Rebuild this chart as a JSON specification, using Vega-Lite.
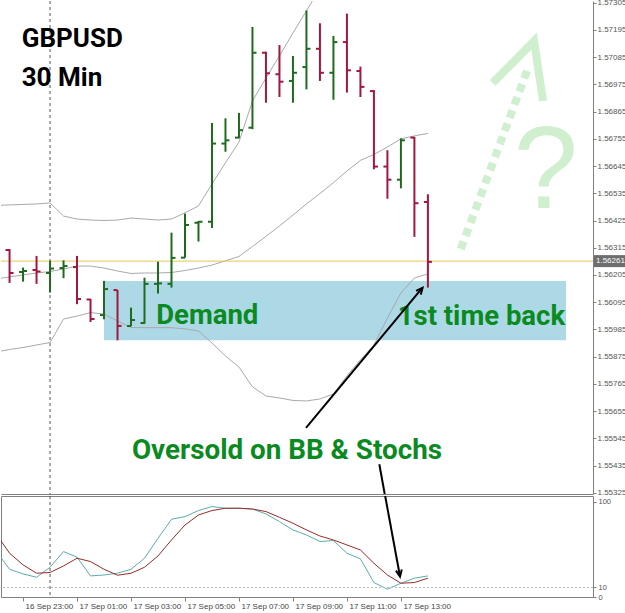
{
  "$schema": "https://vega.github.io/schema/vega-lite/v6.json",
  "padding": {"top": -2, "left": 0, "right": 0, "bottom": 0},
  "spacing": 2,
  "bounds": "flush",
  "background": "white",
  "config": {"view": {"stroke": null}, "axis": {"grid": false, "labelOverlap": false}},
  "datasets": {
    "bars": [
      {"t": "2015-09-16 22:30", "o": 1.56306, "h": 1.5631, "l": 1.56173, "c": 1.56213},
      {"t": "2015-09-16 23:00", "o": 1.56217, "h": 1.56235, "l": 1.56178, "c": 1.56221},
      {"t": "2015-09-16 23:30", "o": 1.56225, "h": 1.56282, "l": 1.56169, "c": 1.56219},
      {"t": "2015-09-17 00:00", "o": 1.56213, "h": 1.56262, "l": 1.56134, "c": 1.56231},
      {"t": "2015-09-17 00:30", "o": 1.56233, "h": 1.56264, "l": 1.56192, "c": 1.56241},
      {"t": "2015-09-17 01:00", "o": 1.56237, "h": 1.56282, "l": 1.56087, "c": 1.56108},
      {"t": "2015-09-17 01:30", "o": 1.56106, "h": 1.56108, "l": 1.56015, "c": 1.56027},
      {"t": "2015-09-17 02:00", "o": 1.56043, "h": 1.56181, "l": 1.56026, "c": 1.56148},
      {"t": "2015-09-17 02:30", "o": 1.56144, "h": 1.56144, "l": 1.55941, "c": 1.55999},
      {"t": "2015-09-17 03:00", "o": 1.55999, "h": 1.56073, "l": 1.55998, "c": 1.56023},
      {"t": "2015-09-17 03:30", "o": 1.56011, "h": 1.56194, "l": 1.56008, "c": 1.56169},
      {"t": "2015-09-17 04:00", "o": 1.56169, "h": 1.56259, "l": 1.5613, "c": 1.56171},
      {"t": "2015-09-17 04:30", "o": 1.56169, "h": 1.56376, "l": 1.56154, "c": 1.56274},
      {"t": "2015-09-17 05:00", "o": 1.56275, "h": 1.56453, "l": 1.56275, "c": 1.56407},
      {"t": "2015-09-17 05:30", "o": 1.56416, "h": 1.56423, "l": 1.5634, "c": 1.5642},
      {"t": "2015-09-17 06:00", "o": 1.5642, "h": 1.56819, "l": 1.56395, "c": 1.56736},
      {"t": "2015-09-17 06:30", "o": 1.56736, "h": 1.56838, "l": 1.56703, "c": 1.56749},
      {"t": "2015-09-17 07:00", "o": 1.5676, "h": 1.5686, "l": 1.56757, "c": 1.5679},
      {"t": "2015-09-17 07:30", "o": 1.568, "h": 1.57207, "l": 1.56794, "c": 1.57103},
      {"t": "2015-09-17 08:00", "o": 1.57103, "h": 1.57107, "l": 1.56901, "c": 1.5702},
      {"t": "2015-09-17 08:30", "o": 1.57016, "h": 1.57134, "l": 1.56924, "c": 1.56986},
      {"t": "2015-09-17 09:00", "o": 1.56989, "h": 1.5709, "l": 1.56901, "c": 1.57022},
      {"t": "2015-09-17 09:30", "o": 1.57045, "h": 1.57274, "l": 1.56955, "c": 1.57119},
      {"t": "2015-09-17 10:00", "o": 1.57119, "h": 1.57222, "l": 1.56989, "c": 1.57022},
      {"t": "2015-09-17 10:30", "o": 1.57022, "h": 1.57171, "l": 1.56913, "c": 1.57146},
      {"t": "2015-09-17 11:00", "o": 1.57146, "h": 1.57261, "l": 1.56942, "c": 1.57032},
      {"t": "2015-09-17 11:30", "o": 1.57029, "h": 1.57047, "l": 1.56924, "c": 1.56965},
      {"t": "2015-09-17 12:00", "o": 1.56948, "h": 1.56952, "l": 1.56632, "c": 1.56643},
      {"t": "2015-09-17 12:30", "o": 1.56643, "h": 1.56709, "l": 1.56513, "c": 1.5659},
      {"t": "2015-09-17 13:00", "o": 1.5659, "h": 1.56757, "l": 1.56555, "c": 1.56749},
      {"t": "2015-09-17 13:30", "o": 1.5676, "h": 1.56763, "l": 1.56359, "c": 1.56495},
      {"t": "2015-09-17 14:00", "o": 1.565, "h": 1.56531, "l": 1.56154, "c": 1.56258}
    ],
    "bb": [
      {"t": "2015-09-16 22:00", "upper": 1.56486, "mid": 1.56189, "lower": 1.55894},
      {"t": "2015-09-16 22:30", "upper": 1.56488, "mid": 1.56197, "lower": 1.55904},
      {"t": "2015-09-16 23:00", "upper": 1.5649, "mid": 1.56205, "lower": 1.55912},
      {"t": "2015-09-16 23:30", "upper": 1.56492, "mid": 1.56213, "lower": 1.55922},
      {"t": "2015-09-17 00:00", "upper": 1.56496, "mid": 1.56219, "lower": 1.55932},
      {"t": "2015-09-17 00:30", "upper": 1.56443, "mid": 1.56229, "lower": 1.56027},
      {"t": "2015-09-17 01:00", "upper": 1.56431, "mid": 1.56241, "lower": 1.56039},
      {"t": "2015-09-17 01:30", "upper": 1.56427, "mid": 1.56241, "lower": 1.56053},
      {"t": "2015-09-17 02:00", "upper": 1.56425, "mid": 1.56233, "lower": 1.56047},
      {"t": "2015-09-17 02:30", "upper": 1.56427, "mid": 1.56221, "lower": 1.56019},
      {"t": "2015-09-17 03:00", "upper": 1.56435, "mid": 1.56211, "lower": 1.55993},
      {"t": "2015-09-17 03:30", "upper": 1.56431, "mid": 1.56213, "lower": 1.55992},
      {"t": "2015-09-17 04:00", "upper": 1.56427, "mid": 1.56213, "lower": 1.55992},
      {"t": "2015-09-17 04:30", "upper": 1.56431, "mid": 1.56215, "lower": 1.55992},
      {"t": "2015-09-17 05:00", "upper": 1.56456, "mid": 1.56223, "lower": 1.55987},
      {"t": "2015-09-17 05:30", "upper": 1.56484, "mid": 1.56233, "lower": 1.55979},
      {"t": "2015-09-17 06:00", "upper": 1.56573, "mid": 1.56245, "lower": 1.5593},
      {"t": "2015-09-17 06:30", "upper": 1.56658, "mid": 1.56262, "lower": 1.55878},
      {"t": "2015-09-17 07:00", "upper": 1.56742, "mid": 1.5628, "lower": 1.55833},
      {"t": "2015-09-17 07:30", "upper": 1.56908, "mid": 1.5632, "lower": 1.55753},
      {"t": "2015-09-17 08:00", "upper": 1.57001, "mid": 1.56361, "lower": 1.55716},
      {"t": "2015-09-17 08:30", "upper": 1.5709, "mid": 1.56403, "lower": 1.55708},
      {"t": "2015-09-17 09:00", "upper": 1.57183, "mid": 1.56447, "lower": 1.55698},
      {"t": "2015-09-17 09:30", "upper": 1.57272, "mid": 1.56492, "lower": 1.55696},
      {"t": "2015-09-17 10:00", "upper": 1.57364, "mid": 1.56534, "lower": 1.55704},
      {"t": "2015-09-17 10:30", "upper": 1.57432, "mid": 1.56578, "lower": 1.55724},
      {"t": "2015-09-17 11:00", "upper": 1.57453, "mid": 1.56625, "lower": 1.55797},
      {"t": "2015-09-17 11:30", "upper": 1.57474, "mid": 1.56668, "lower": 1.55862},
      {"t": "2015-09-17 12:00", "upper": 1.57462, "mid": 1.56692, "lower": 1.55922},
      {"t": "2015-09-17 12:30", "upper": 1.57413, "mid": 1.56722, "lower": 1.56031},
      {"t": "2015-09-17 13:00", "upper": 1.57378, "mid": 1.56755, "lower": 1.56132},
      {"t": "2015-09-17 13:30", "upper": 1.57341, "mid": 1.56767, "lower": 1.56193},
      {"t": "2015-09-17 14:00", "upper": 1.57345, "mid": 1.56777, "lower": 1.56209}
    ],
    "stoch": [
      {"t": "2015-09-16 22:00", "k": 48.5, "d": 66.6},
      {"t": "2015-09-16 22:30", "k": 29.2, "d": 46.1},
      {"t": "2015-09-16 23:00", "k": 24.3, "d": 33.8},
      {"t": "2015-09-16 23:30", "k": 20.8, "d": 25.0},
      {"t": "2015-09-17 00:00", "k": 31.3, "d": 25.8},
      {"t": "2015-09-17 00:30", "k": 47.8, "d": 32.7},
      {"t": "2015-09-17 01:00", "k": 41.9, "d": 40.8},
      {"t": "2015-09-17 01:30", "k": 22.2, "d": 37.3},
      {"t": "2015-09-17 02:00", "k": 23.2, "d": 29.2},
      {"t": "2015-09-17 02:30", "k": 25.0, "d": 22.9},
      {"t": "2015-09-17 03:00", "k": 29.2, "d": 25.0},
      {"t": "2015-09-17 03:30", "k": 40.8, "d": 31.3},
      {"t": "2015-09-17 04:00", "k": 61.8, "d": 43.2},
      {"t": "2015-09-17 04:30", "k": 81.8, "d": 60.0},
      {"t": "2015-09-17 05:00", "k": 84.6, "d": 75.8},
      {"t": "2015-09-17 05:30", "k": 91.0, "d": 86.3},
      {"t": "2015-09-17 06:00", "k": 95.2, "d": 91.0},
      {"t": "2015-09-17 06:30", "k": 93.4, "d": 93.4},
      {"t": "2015-09-17 07:00", "k": 93.4, "d": 93.4},
      {"t": "2015-09-17 07:30", "k": 92.6, "d": 92.6},
      {"t": "2015-09-17 08:00", "k": 87.4, "d": 89.9},
      {"t": "2015-09-17 08:30", "k": 79.4, "d": 83.9},
      {"t": "2015-09-17 09:00", "k": 70.6, "d": 77.6},
      {"t": "2015-09-17 09:30", "k": 65.3, "d": 70.6},
      {"t": "2015-09-17 10:00", "k": 58.4, "d": 64.2},
      {"t": "2015-09-17 10:30", "k": 59.4, "d": 60.0},
      {"t": "2015-09-17 11:00", "k": 46.1, "d": 54.8},
      {"t": "2015-09-17 11:30", "k": 40.1, "d": 49.5},
      {"t": "2015-09-17 12:00", "k": 15.2, "d": 35.5},
      {"t": "2015-09-17 12:30", "k": 8.2, "d": 23.2},
      {"t": "2015-09-17 13:00", "k": 14.5, "d": 14.5},
      {"t": "2015-09-17 13:30", "k": 19.8, "d": 15.2},
      {"t": "2015-09-17 14:00", "k": 22.2, "d": 19.8}
    ]
  },
  "vconcat": [
    {
      "width": 592,
      "height": 493,
      "layer": [
        {
          "data": {"values": [{"t1": "2015-09-17 02:00", "t2": "2015-09-17 19:07", "p1": 1.55941, "p2": 1.56181}]},
          "mark": {"type": "rect", "color": "#add8e6"},
          "encoding": {
            "x": {"field": "t1", "type": "temporal", "scale": {"domain": [{"year": 2015, "month": 9, "date": 16, "hours": 22, "minutes": 11}, {"year": 2015, "month": 9, "date": 17, "hours": 20, "minutes": 7}]}, "axis": {"title": null, "labels": false, "ticks": false, "domain": true, "domainColor": "#808080", "grid": false}},
            "x2": {"field": "t2"},
            "y": {"field": "p1", "type": "quantitative", "scale": {"domain": [1.5532, 1.57312], "nice": false, "zero": false}, "axis": {"title": null, "orient": "right", "values": [1.57305, 1.57195, 1.57085, 1.56975, 1.56865, 1.56755, 1.56645, 1.56535, 1.56425, 1.56315, 1.56205, 1.56095, 1.55985, 1.55875, 1.55765, 1.55655, 1.55545, 1.55435, 1.55325], "tickCount": 19, "format": ".5f", "labelFont": "Liberation Sans", "labelFontSize": 8, "labelColor": "#555555", "tickSize": 3, "tickColor": "#808080", "domainColor": "#808080", "labelPadding": 1, "labelOverlap": false, "labelSeparation": 0, "grid": false}},
            "y2": {"field": "p2"}
          }
        },
        {
          "data": {"name": "bb"},
          "mark": {"type": "line", "color": "#a9a9a9", "strokeWidth": 1, "clip": true},
          "encoding": {
            "x": {"field": "t", "type": "temporal", "scale": {"domain": [{"year": 2015, "month": 9, "date": 16, "hours": 22, "minutes": 11}, {"year": 2015, "month": 9, "date": 17, "hours": 20, "minutes": 7}]}},
            "y": {"field": "upper", "type": "quantitative", "scale": {"domain": [1.5532, 1.57312], "nice": false, "zero": false}}
          }
        },
        {
          "data": {"name": "bb"},
          "mark": {"type": "line", "color": "#a9a9a9", "strokeWidth": 1, "clip": true},
          "encoding": {
            "x": {"field": "t", "type": "temporal", "scale": {"domain": [{"year": 2015, "month": 9, "date": 16, "hours": 22, "minutes": 11}, {"year": 2015, "month": 9, "date": 17, "hours": 20, "minutes": 7}]}},
            "y": {"field": "mid", "type": "quantitative", "scale": {"domain": [1.5532, 1.57312], "nice": false, "zero": false}}
          }
        },
        {
          "data": {"name": "bb"},
          "mark": {"type": "line", "color": "#a9a9a9", "strokeWidth": 1, "clip": true},
          "encoding": {
            "x": {"field": "t", "type": "temporal", "scale": {"domain": [{"year": 2015, "month": 9, "date": 16, "hours": 22, "minutes": 11}, {"year": 2015, "month": 9, "date": 17, "hours": 20, "minutes": 7}]}},
            "y": {"field": "lower", "type": "quantitative", "scale": {"domain": [1.5532, 1.57312], "nice": false, "zero": false}}
          }
        },
        {
          "data": {"values": [{}]},
          "mark": {"type": "rule", "color": "#e3c75a", "strokeWidth": 1},
          "encoding": {
            "y": {"datum": 1.56261, "type": "quantitative", "scale": {"domain": [1.5532, 1.57312], "nice": false, "zero": false}}
          }
        },
        {
          "data": {"values": [{}]},
          "mark": {"type": "rule", "color": "#555555", "strokeWidth": 1, "strokeDash": [3, 3]},
          "encoding": {
            "x": {"datum": {"year": 2015, "month": 9, "date": 17, "hours": 0, "minutes": 0}, "type": "temporal", "scale": {"domain": [{"year": 2015, "month": 9, "date": 16, "hours": 22, "minutes": 11}, {"year": 2015, "month": 9, "date": 17, "hours": 20, "minutes": 7}]}}
          }
        },
        {
          "data": {"name": "bars"},
          "mark": {"type": "rule", "strokeWidth": 2},
          "encoding": {
            "x": {"field": "t", "type": "temporal", "scale": {"domain": [{"year": 2015, "month": 9, "date": 16, "hours": 22, "minutes": 11}, {"year": 2015, "month": 9, "date": 17, "hours": 20, "minutes": 7}]}},
            "y": {"field": "l", "type": "quantitative", "scale": {"domain": [1.5532, 1.57312], "nice": false, "zero": false}},
            "y2": {"field": "h"},
            "color": {"condition": {"test": "datum.c >= datum.o", "value": "#1e6b1e"}, "value": "#a3173f"}
          }
        },
        {
          "data": {"name": "bars"},
          "mark": {"type": "tick", "orient": "horizontal", "size": 4, "thickness": 2, "xOffset": -2, "opacity": 1},
          "encoding": {
            "x": {"field": "t", "type": "temporal", "scale": {"domain": [{"year": 2015, "month": 9, "date": 16, "hours": 22, "minutes": 11}, {"year": 2015, "month": 9, "date": 17, "hours": 20, "minutes": 7}]}},
            "y": {"field": "o", "type": "quantitative", "scale": {"domain": [1.5532, 1.57312], "nice": false, "zero": false}},
            "color": {"condition": {"test": "datum.c >= datum.o", "value": "#1e6b1e"}, "value": "#a3173f"}
          }
        },
        {
          "data": {"name": "bars"},
          "mark": {"type": "tick", "orient": "horizontal", "size": 4, "thickness": 2, "xOffset": 2, "opacity": 1},
          "encoding": {
            "x": {"field": "t", "type": "temporal", "scale": {"domain": [{"year": 2015, "month": 9, "date": 16, "hours": 22, "minutes": 11}, {"year": 2015, "month": 9, "date": 17, "hours": 20, "minutes": 7}]}},
            "y": {"field": "c", "type": "quantitative", "scale": {"domain": [1.5532, 1.57312], "nice": false, "zero": false}},
            "color": {"condition": {"test": "datum.c >= datum.o", "value": "#1e6b1e"}, "value": "#a3173f"}
          }
        },
        {
          "data": {"values": [{"t": "2015-09-17 15:13", "p": 1.5631}, {"t": "2015-09-17 17:42", "p": 1.57037}]},
          "mark": {"type": "line", "color": "#cfefcf", "strokeWidth": 8, "strokeDash": [8, 6], "strokeCap": "butt"},
          "encoding": {
            "x": {"field": "t", "type": "temporal", "scale": {"domain": [{"year": 2015, "month": 9, "date": 16, "hours": 22, "minutes": 11}, {"year": 2015, "month": 9, "date": 17, "hours": 20, "minutes": 7}]}},
            "y": {"field": "p", "type": "quantitative", "scale": {"domain": [1.5532, 1.57312], "nice": false, "zero": false}}
          }
        },
        {
          "data": {"values": [{"t": "2015-09-17 16:24", "p": 1.56981}, {"t": "2015-09-17 17:56", "p": 1.5715}, {"t": "2015-09-17 18:16", "p": 1.56908}]},
          "mark": {"type": "line", "color": "#cfefcf", "strokeWidth": 8, "strokeCap": "butt", "strokeJoin": "miter"},
          "encoding": {
            "x": {"field": "t", "type": "temporal", "scale": {"domain": [{"year": 2015, "month": 9, "date": 16, "hours": 22, "minutes": 11}, {"year": 2015, "month": 9, "date": 17, "hours": 20, "minutes": 7}]}},
            "y": {"field": "p", "type": "quantitative", "scale": {"domain": [1.5532, 1.57312], "nice": false, "zero": false}}
          }
        },
        {
          "data": {"values": [{"t": "2015-09-17 18:22", "p": 1.56476, "label": "?"}]},
          "mark": {"type": "text", "color": "#cfefcf", "font": "Liberation Sans", "fontSize": 116, "align": "center", "baseline": "alphabetic"},
          "encoding": {
            "x": {"field": "t", "type": "temporal", "scale": {"domain": [{"year": 2015, "month": 9, "date": 16, "hours": 22, "minutes": 11}, {"year": 2015, "month": 9, "date": 17, "hours": 20, "minutes": 7}]}},
            "y": {"field": "p", "type": "quantitative", "scale": {"domain": [1.5532, 1.57312], "nice": false, "zero": false}},
            "text": {"field": "label"}
          }
        },
        {
          "data": {"values": [
            {"t": "2015-09-16 22:57", "p": 1.57126, "label": "GBPUSD"},
            {"t": "2015-09-16 22:57", "p": 1.56969, "label": "30 Min"}
          ]},
          "mark": {"type": "text", "color": "#000000", "font": "Roboto", "fontWeight": "bold", "fontSize": 26, "align": "left", "baseline": "alphabetic"},
          "encoding": {
            "x": {"field": "t", "type": "temporal", "scale": {"domain": [{"year": 2015, "month": 9, "date": 16, "hours": 22, "minutes": 11}, {"year": 2015, "month": 9, "date": 17, "hours": 20, "minutes": 7}]}},
            "y": {"field": "p", "type": "quantitative", "scale": {"domain": [1.5532, 1.57312], "nice": false, "zero": false}},
            "text": {"field": "label"}
          }
        },
        {
          "data": {"values": [
            {"t": "2015-09-17 03:56", "p": 1.56007, "label": "Demand"},
            {"t": "2015-09-17 12:53", "p": 1.56003, "label": "1st time back"}
          ]},
          "mark": {"type": "text", "color": "#0b8a1f", "font": "Roboto", "fontWeight": "bold", "fontSize": 27.5, "align": "left", "baseline": "alphabetic"},
          "encoding": {
            "x": {"field": "t", "type": "temporal", "scale": {"domain": [{"year": 2015, "month": 9, "date": 16, "hours": 22, "minutes": 11}, {"year": 2015, "month": 9, "date": 17, "hours": 20, "minutes": 7}]}},
            "y": {"field": "p", "type": "quantitative", "scale": {"domain": [1.5532, 1.57312], "nice": false, "zero": false}},
            "text": {"field": "label"}
          }
        },
        {
          "data": {"values": [{"t": "2015-09-17 03:02", "p": 1.55462, "label": "Oversold on BB & Stochs"}]},
          "mark": {"type": "text", "color": "#0b8a1f", "font": "Roboto", "fontWeight": "bold", "fontSize": 27.8, "align": "left", "baseline": "alphabetic"},
          "encoding": {
            "x": {"field": "t", "type": "temporal", "scale": {"domain": [{"year": 2015, "month": 9, "date": 16, "hours": 22, "minutes": 11}, {"year": 2015, "month": 9, "date": 17, "hours": 20, "minutes": 7}]}},
            "y": {"field": "p", "type": "quantitative", "scale": {"domain": [1.5532, 1.57312], "nice": false, "zero": false}},
            "text": {"field": "label"}
          }
        },
        {
          "data": {"values": [
            {"t1": "2015-09-17 09:29", "p1": 1.55587, "t2": "2015-09-17 13:48", "p2": 1.56154},
            {"t1": "2015-09-17 12:12", "p1": 1.5544, "t2": "2015-09-17 12:24", "p2": 1.5532}
          ]},
          "mark": {"type": "rule", "color": "#000000", "strokeWidth": 2},
          "encoding": {
            "x": {"field": "t1", "type": "temporal", "scale": {"domain": [{"year": 2015, "month": 9, "date": 16, "hours": 22, "minutes": 11}, {"year": 2015, "month": 9, "date": 17, "hours": 20, "minutes": 7}]}},
            "x2": {"field": "t2"},
            "y": {"field": "p1", "type": "quantitative", "scale": {"domain": [1.5532, 1.57312], "nice": false, "zero": false}},
            "y2": {"field": "p2"}
          }
        },
        {
          "data": {"values": [{"t": "2015-09-17 13:41", "p": 1.56138}]},
          "mark": {"type": "point", "shape": "M -0.6 0.3 L 0 -1 L 0.6 0.3", "filled": false, "stroke": "#000000", "strokeWidth": 2, "size": 100, "angle": 39.8, "opacity": 1},
          "encoding": {
            "x": {"field": "t", "type": "temporal", "scale": {"domain": [{"year": 2015, "month": 9, "date": 16, "hours": 22, "minutes": 11}, {"year": 2015, "month": 9, "date": 17, "hours": 20, "minutes": 7}]}},
            "y": {"field": "p", "type": "quantitative", "scale": {"domain": [1.5532, 1.57312], "nice": false, "zero": false}}
          }
        },
        {
          "data": {"values": [{}]},
          "mark": {"type": "rect", "color": "#6e6e6e", "xOffset": 1, "x2Offset": 32, "yOffset": -6, "y2Offset": 6, "clip": false},
          "encoding": {
            "x": {"datum": {"year": 2015, "month": 9, "date": 17, "hours": 20, "minutes": 7}, "type": "temporal", "scale": {"domain": [{"year": 2015, "month": 9, "date": 16, "hours": 22, "minutes": 11}, {"year": 2015, "month": 9, "date": 17, "hours": 20, "minutes": 7}]}},
            "x2": {"datum": {"year": 2015, "month": 9, "date": 17, "hours": 20, "minutes": 7}},
            "y": {"datum": 1.56261, "type": "quantitative", "scale": {"domain": [1.5532, 1.57312], "nice": false, "zero": false}},
            "y2": {"datum": 1.56261}
          }
        },
        {
          "data": {"values": [{"label": "1.56261"}]},
          "mark": {"type": "text", "color": "#ffffff", "font": "Liberation Sans", "fontSize": 8, "align": "left", "baseline": "middle", "dx": 3},
          "encoding": {
            "x": {"datum": {"year": 2015, "month": 9, "date": 17, "hours": 20, "minutes": 7}, "type": "temporal", "scale": {"domain": [{"year": 2015, "month": 9, "date": 16, "hours": 22, "minutes": 11}, {"year": 2015, "month": 9, "date": 17, "hours": 20, "minutes": 7}]}},
            "y": {"datum": 1.56261, "type": "quantitative", "scale": {"domain": [1.5532, 1.57312], "nice": false, "zero": false}},
            "text": {"field": "label"}
          }
        }
      ]
    },
    {
      "width": 592,
      "height": 101,
      "view": {"stroke": "#808080"},
      "layer": [
        {
          "data": {"name": "stoch"},
          "mark": {"type": "line", "color": "#5aaeab", "strokeWidth": 1, "clip": true},
          "encoding": {
            "x": {"field": "t", "type": "temporal", "scale": {"domain": [{"year": 2015, "month": 9, "date": 16, "hours": 22, "minutes": 11}, {"year": 2015, "month": 9, "date": 17, "hours": 20, "minutes": 7}]}, "axis": {"title": null, "values": [{"year": 2015, "month": 9, "date": 16, "hours": 23}, {"year": 2015, "month": 9, "date": 17, "hours": 1}, {"year": 2015, "month": 9, "date": 17, "hours": 3}, {"year": 2015, "month": 9, "date": 17, "hours": 5}, {"year": 2015, "month": 9, "date": 17, "hours": 7}, {"year": 2015, "month": 9, "date": 17, "hours": 9}, {"year": 2015, "month": 9, "date": 17, "hours": 11}, {"year": 2015, "month": 9, "date": 17, "hours": 13}], "format": "%d %b %H:%M", "labelAlign": "left", "labelOffset": 2, "labelFont": "Liberation Sans", "labelFontSize": 8, "labelColor": "#444444", "tickSize": 4, "tickColor": "#808080", "domain": false, "labelPadding": 1, "labelOverlap": false, "labelFlush": false, "grid": false}},
            "y": {"field": "k", "type": "quantitative", "scale": {"domain": [0, 106.3], "nice": false, "zero": false}, "axis": {"title": null, "orient": "right", "values": [0, 10, 100], "labelFont": "Liberation Sans", "labelFontSize": 7.5, "labelColor": "#555555", "tickSize": 3, "tickColor": "#808080", "domain": false, "labelPadding": 2, "labelOverlap": false, "grid": false}}
          }
        },
        {
          "data": {"values": [{}]},
          "mark": {"type": "rule", "color": "#b8b8b8", "strokeWidth": 1, "strokeDash": [2, 2]},
          "encoding": {
            "y": {"datum": 10, "type": "quantitative", "scale": {"domain": [0, 106.3], "nice": false, "zero": false}}
          }
        },
        {
          "data": {"values": [{}]},
          "mark": {"type": "rule", "color": "#555555", "strokeWidth": 1, "strokeDash": [3, 3]},
          "encoding": {
            "x": {"datum": {"year": 2015, "month": 9, "date": 17, "hours": 0, "minutes": 0}, "type": "temporal", "scale": {"domain": [{"year": 2015, "month": 9, "date": 16, "hours": 22, "minutes": 11}, {"year": 2015, "month": 9, "date": 17, "hours": 20, "minutes": 7}]}}
          }
        },
        {
          "data": {"name": "stoch"},
          "mark": {"type": "line", "color": "#9b2a2a", "strokeWidth": 1, "clip": true},
          "encoding": {
            "x": {"field": "t", "type": "temporal", "scale": {"domain": [{"year": 2015, "month": 9, "date": 16, "hours": 22, "minutes": 11}, {"year": 2015, "month": 9, "date": 17, "hours": 20, "minutes": 7}]}},
            "y": {"field": "d", "type": "quantitative", "scale": {"domain": [0, 106.3], "nice": false, "zero": false}}
          }
        },
        {
          "data": {"values": [{"t1": "2015-09-17 12:25", "v1": 106.3, "t2": "2015-09-17 12:58", "v2": 21.6}]},
          "mark": {"type": "rule", "color": "#000000", "strokeWidth": 2},
          "encoding": {
            "x": {"field": "t1", "type": "temporal", "scale": {"domain": [{"year": 2015, "month": 9, "date": 16, "hours": 22, "minutes": 11}, {"year": 2015, "month": 9, "date": 17, "hours": 20, "minutes": 7}]}},
            "x2": {"field": "t2"},
            "y": {"field": "v1", "type": "quantitative", "scale": {"domain": [0, 106.3], "nice": false, "zero": false}},
            "y2": {"field": "v2"}
          }
        },
        {
          "data": {"values": [{"t": "2015-09-17 12:56", "v": 26.7}]},
          "mark": {"type": "point", "shape": "M -0.6 0.3 L 0 -1 L 0.6 0.3", "filled": false, "stroke": "#000000", "strokeWidth": 2, "size": 100, "angle": 169.6, "opacity": 1},
          "encoding": {
            "x": {"field": "t", "type": "temporal", "scale": {"domain": [{"year": 2015, "month": 9, "date": 16, "hours": 22, "minutes": 11}, {"year": 2015, "month": 9, "date": 17, "hours": 20, "minutes": 7}]}},
            "y": {"field": "v", "type": "quantitative", "scale": {"domain": [0, 106.3], "nice": false, "zero": false}}
          }
        }
      ]
    }
  ]
}
